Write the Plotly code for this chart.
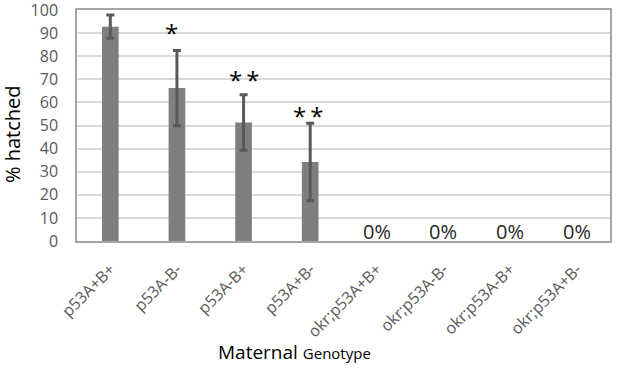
import plotly.graph_objects as go

categories = ["p53A+B+", "p53A-B-", "p53A-B+", "p53A+B-",
              "okr;p53A+B+", "okr;p53A-B-", "okr;p53A-B+", "okr;p53A+B-"]
values = [92.8, 66.2, 51.3, 34.2, 0, 0, 0, 0]
errors = [5.0, 16.3, 12.0, 16.8, None, None, None, None]
sig_labels = ["", "*", "*\u2009*", "*\u2009*", "", "", "", ""]
zero_labels = ["", "", "", "", "0%", "0%", "0%", "0%"]

# styling: pixel nudges for the significance marks
sig_shift_y = [0, -1, -3, -11, 0, 0, 0, 0]
sig_shift_x = [0, -5, 0, -2, 0, 0, 0, 0]

FONT = "Open Sans"
W, H = 617, 368
L, R, T, B = 77, 7, 10, 127
pw, ph = W - L - R, H - T - B

fig = go.Figure()
fig.add_trace(go.Bar(
    x=categories, y=values, width=0.25,
    marker=dict(color="#7f7f7f", line=dict(width=0)),
    hoverinfo="skip",
))
# error bars only where an error value exists
ex = [c for c, e in zip(categories, errors) if e is not None]
ey = [v for v, e in zip(values, errors) if e is not None]
ee = [e for e in errors if e is not None]
fig.add_trace(go.Scatter(
    x=ex, y=ey, mode="markers", marker=dict(opacity=0, size=1),
    error_y=dict(type="data", array=ee, visible=True,
                 color="#595959", thickness=3, width=4),
    hoverinfo="skip",
))

annotations = []
for c, v, e, s, sy, sx in zip(categories, values, errors, sig_labels, sig_shift_y, sig_shift_x):
    if s:
        annotations.append(dict(x=c, y=v + e, text=s, showarrow=False,
                                xref="x", yref="y", yanchor="bottom",
                                yshift=sy, xshift=sx,
                                font=dict(family=FONT, size=24, color="#000000")))
for c, z in zip(categories, zero_labels):
    if z:
        annotations.append(dict(x=c, y=0, text=z, showarrow=False,
                                xref="x", yref="y", yanchor="bottom", yshift=-6,
                                font=dict(family=FONT, size=20, color="#262626")))

annotations.append(dict(x=(12 - L) / pw, y=(H - B - 134) / ph, xref="paper", yref="paper",
                        xanchor="center", yanchor="middle",
                        text="% hatched", textangle=-90, showarrow=False,
                        font=dict(family=FONT, size=20, color="#000000")))
annotations.append(dict(x=(294 - L) / pw, y=(H - B - 352) / ph, xref="paper", yref="paper",
                        xanchor="center", yanchor="middle",
                        text="Maternal <span style='font-size:15px'>Genotype</span>",
                        showarrow=False,
                        font=dict(family=FONT, size=19, color="#000000")))

fig.update_layout(
    width=W, height=H,
    margin=dict(l=L, r=R, t=T, b=B, autoexpand=False),
    paper_bgcolor="white", plot_bgcolor="white",
    showlegend=False,
    annotations=annotations,
)
fig.update_xaxes(
    type="category", categoryorder="array", categoryarray=categories,
    showline=True, linecolor="#a6a6a6", linewidth=1.5,
    mirror=True, tickangle=-45, ticks="", showgrid=False, automargin=False,
    ticklabelstandoff=11, ticklabeloverflow="allow",
    tickfont=dict(family=FONT, size=16, color="#595959"),
)
fig.update_yaxes(
    range=[0, 100], dtick=10, showline=True, linecolor="#a6a6a6", linewidth=1.5,
    mirror=True, gridcolor="#d9d9d9", gridwidth=1.5, zeroline=False,
    ticklabelstandoff=14, automargin=False, ticklabeloverflow="allow",
    tickfont=dict(family=FONT, size=16, color="#595959"),
)

fig.write_html("out.html", config={"displayModeBar": False},
               post_script="document.body.style.margin='0';document.body.style.overflow='hidden';")
